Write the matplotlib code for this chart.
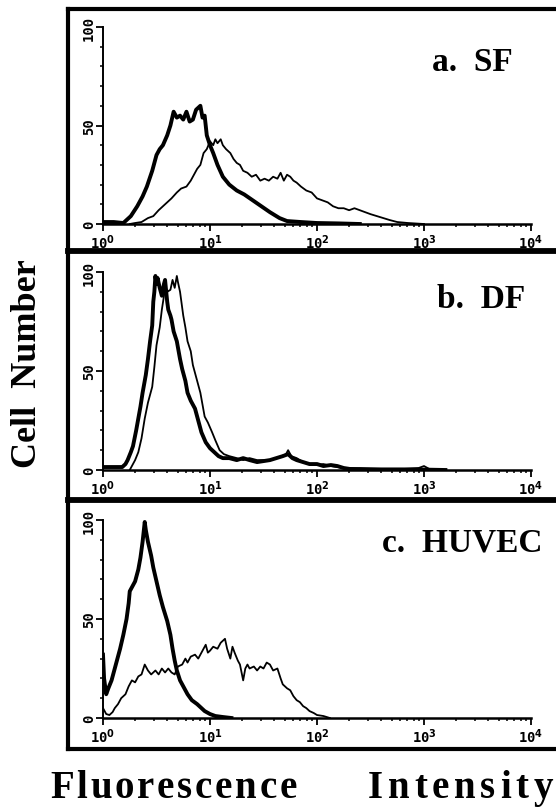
import matplotlib
matplotlib.use("Agg")
import matplotlib.pyplot as plt
from matplotlib.lines import Line2D
from matplotlib.ticker import FixedLocator, NullFormatter, MultipleLocator
import numpy as np

# Histogram traces: x is log10(fluorescence), y is cell count
SF_BOLD_LOGX = [0.00, 0.10, 0.19, 0.26, 0.32, 0.37, 0.41, 0.46, 0.50, 0.53, 0.56, 0.60, 0.63, 0.66,
                0.69, 0.72, 0.75, 0.78, 0.81, 0.84, 0.87, 0.91, 0.93, 0.95, 0.97, 1.00, 1.03, 1.07,
                1.12, 1.18, 1.25, 1.32, 1.40, 1.48, 1.56, 1.65, 1.72, 1.85, 2.00, 2.20, 2.40]
SF_BOLD_COUNT = [1, 1, 0.5, 4, 9, 14, 19, 27, 35, 38, 40, 45, 50, 57, 54, 55, 53, 57, 52, 53, 58,
                 60, 54, 55, 45, 40, 36, 30, 24, 20, 17, 15, 12, 9, 6, 3, 1.5, 1, 0.5, 0.3, 0]

SF_THIN_LOGX = [0.25, 0.30, 0.36, 0.42, 0.47, 0.52, 0.56, 0.60, 0.64, 0.69, 0.73, 0.78, 0.82, 0.85,
                0.88, 0.91, 0.94, 0.97, 1.00, 1.03, 1.05, 1.07, 1.10, 1.12, 1.15, 1.19, 1.22, 1.25,
                1.28, 1.31, 1.35, 1.39, 1.43, 1.47, 1.51, 1.55, 1.59, 1.63, 1.66, 1.69, 1.72, 1.75,
                1.78, 1.81, 1.85, 1.90, 1.95, 2.00, 2.05, 2.10, 2.15, 2.20, 2.25, 2.30, 2.35, 2.40,
                2.45, 2.50, 2.56, 2.62, 2.68, 2.75, 2.85, 3.00]
SF_THIN_COUNT = [0, 0.5, 1, 3, 4, 7, 9, 11, 13, 16, 18, 19, 22, 25, 28, 30, 36, 38, 42, 40, 43, 41,
                 43, 40, 38, 36, 33, 31, 30, 27, 26, 24, 25, 22, 23, 22, 24, 23, 26, 22, 25, 24, 22,
                 21, 19, 17, 16, 13, 12, 11, 9, 8, 8, 7, 8, 7, 6, 5, 4, 3, 2, 1, 0.5, 0]

DF_BOLD_LOGX = [0.00, 0.10, 0.18, 0.21, 0.23, 0.26, 0.28, 0.31, 0.33, 0.35, 0.37, 0.40, 0.42, 0.44,
                0.46, 0.47, 0.48, 0.49, 0.50, 0.51, 0.53, 0.55, 0.57, 0.58, 0.60, 0.61, 0.63, 0.64,
                0.66, 0.69, 0.72, 0.74, 0.77, 0.79, 0.82, 0.86, 0.89, 0.92, 0.96, 1.00, 1.04, 1.08,
                1.12, 1.18, 1.25, 1.31, 1.37, 1.44, 1.50, 1.56, 1.62, 1.68, 1.73, 1.77, 1.81, 1.87,
                1.93, 2.00, 2.06, 2.13, 2.19, 2.25, 2.31, 2.40, 2.60, 2.80, 3.00, 3.20]
DF_BOLD_COUNT = [1.5, 1.5, 1.5, 3, 5, 9, 12, 20, 26, 32, 39, 48, 56, 65, 73, 85, 90, 98, 94, 97,
                 92, 88, 94, 96, 85, 81, 78, 76, 70, 65, 56, 51, 45, 39, 35, 31, 25, 19, 14, 11, 9,
                 7, 6, 6, 5, 6, 5, 4, 4.5, 5, 6, 7, 8, 6, 5, 4, 3, 3, 2, 2.5, 2, 1, 0.5, 0.5, 0.3,
                 0.3, 0.2, 0]

DF_THIN_LOGX = [0.25, 0.27, 0.30, 0.33, 0.36, 0.39, 0.42, 0.46, 0.48, 0.50, 0.53, 0.55, 0.57, 0.58,
                0.60, 0.63, 0.65, 0.67, 0.69, 0.70, 0.72, 0.75, 0.77, 0.79, 0.82, 0.84, 0.87, 0.91,
                0.93, 0.95, 0.98, 1.02, 1.05, 1.09, 1.13, 1.18, 1.25, 1.31, 1.37, 1.44, 1.50, 1.56,
                1.62, 1.67, 1.71, 1.73, 1.76, 1.81, 1.87, 1.93, 2.00, 2.06, 2.13, 2.19, 2.25, 2.31,
                2.40, 2.60, 2.80, 2.95, 3.00, 3.05, 3.20]
DF_THIN_COUNT = [0, 2, 5, 9, 16, 26, 34, 42, 52, 63, 72, 81, 88, 93, 90, 91, 96, 92, 98, 95, 90,
                 78, 72, 65, 60, 53, 47, 39, 33, 27, 24, 19, 15, 10, 8, 7, 6, 5, 6, 5, 5, 5, 6, 7,
                 8, 10, 7, 6, 4, 3, 2.5, 3, 2, 1.5, 1, 1, 0.5, 0.5, 0.5, 1, 2, 0.5, 0]

HUVEC_BOLD_LOGX = [0.00, 0.01, 0.03, 0.05, 0.08, 0.11, 0.14, 0.16, 0.19, 0.22, 0.24, 0.25, 0.28,
                   0.30, 0.33, 0.35, 0.37, 0.38, 0.39, 0.40, 0.42, 0.45, 0.47, 0.50, 0.53, 0.56,
                   0.60, 0.63, 0.65, 0.67, 0.69, 0.72, 0.74, 0.77, 0.79, 0.83, 0.88, 0.92, 0.95,
                   1.00, 1.05, 1.12, 1.20]
HUVEC_BOLD_COUNT = [32, 20, 12, 15, 19, 25, 31, 35, 42, 50, 58, 64, 67, 69, 75, 81, 89, 94, 99, 95,
                    89, 82, 76, 69, 62, 56, 49, 42, 35, 29, 24, 19, 17, 14, 12, 9, 7, 5, 3.5, 2, 1,
                    0.5, 0]

HUVEC_THIN_LOGX = [0.00, 0.03, 0.06, 0.09, 0.11, 0.14, 0.17, 0.21, 0.24, 0.27, 0.30, 0.33, 0.36,
                   0.39, 0.42, 0.45, 0.49, 0.52, 0.55, 0.58, 0.61, 0.64, 0.67, 0.70, 0.74, 0.77,
                   0.79, 0.82, 0.86, 0.89, 0.93, 0.96, 0.98, 1.00, 1.03, 1.07, 1.10, 1.14, 1.16,
                   1.19, 1.21, 1.23, 1.26, 1.28, 1.31, 1.33, 1.35, 1.37, 1.41, 1.44, 1.47, 1.50,
                   1.53, 1.56, 1.59, 1.63, 1.66, 1.68, 1.72, 1.75, 1.78, 1.81, 1.84, 1.87, 1.90,
                   1.93, 1.97, 2.00, 2.06, 2.12]
HUVEC_THIN_COUNT = [5, 2, 1.5, 3, 5, 7, 10, 12, 16, 19, 18, 21, 22, 27, 24, 22, 24, 22, 25, 23, 25,
                    23, 22, 26, 27, 30, 28, 31, 32, 30, 34, 37, 33, 34, 36, 35, 38, 40, 35, 30, 36,
                    33, 29, 27, 19, 25, 27, 25, 26, 24, 26, 25, 28, 27, 24, 25, 20, 17, 15, 14, 11,
                    9, 8, 6, 5, 3.5, 2.5, 1.5, 1, 0]

PANEL_LABELS = ["a.  SF", "b.  DF", "c.  HUVEC"]
X_TICKS = [1, 10, 100, 1000, 10000]
X_TICK_LABELS = ["10$^{0}$", "10$^{1}$", "10$^{2}$", "10$^{3}$", "10$^{4}$"]
Y_TICKS = [0, 50, 100]

W, H = 556, 812
SERIF = "Liberation Serif"
MONO = "DejaVu Sans Mono"

plt.rcParams["mathtext.fontset"] = "dejavusans"
plt.rcParams["mathtext.default"] = "bf"


def fx(px):
    return px / W


def fy(py):
    return 1 - py / H


def tracked_text(fig, x_px, y_px, s, size, track, align="left"):
    # place a word letter by letter so it gets the wide spacing of the print
    renderer = fig.canvas.get_renderer()
    widths = []
    for ch in s:
        t = fig.text(0, 0, ch, family=SERIF, fontweight="bold", fontsize=size)
        widths.append(t.get_window_extent(renderer).width)
        t.remove()
    total = sum(widths) + track * (len(s) - 1)
    x = x_px if align == "left" else x_px - total
    for ch, w in zip(s, widths):
        fig.text(fx(x), fy(y_px), ch, family=SERIF, fontweight="bold", fontsize=size,
                 ha="left", va="baseline")
        x += w + track


fig = plt.figure(figsize=(W / 100, H / 100), dpi=100)
fig.patch.set_facecolor("white")

# thick outer box with separators
frame_left, frame_top, frame_bottom = 68, 10, 750
for x0, y0, x1, y1, lw in [(frame_left, frame_top, 600, frame_top, 3.0),
                           (frame_left, frame_bottom, 600, frame_bottom, 3.0),
                           (frame_left, frame_top, frame_left, frame_bottom, 3.0),
                           (frame_left, 252, 600, 252, 4.2),
                           (frame_left, 501, 600, 501, 4.2)]:
    fig.add_artist(Line2D([fx(x0), fx(x1)], [fy(y0), fy(y1)], color="black", lw=lw,
                          solid_capstyle="projecting"))

panels = [
    (SF_BOLD_LOGX, SF_BOLD_COUNT, SF_THIN_LOGX, SF_THIN_COUNT, 28, 225, (432, 71)),
    (DF_BOLD_LOGX, DF_BOLD_COUNT, DF_THIN_LOGX, DF_THIN_COUNT, 273, 471, (437, 308)),
    (HUVEC_BOLD_LOGX, HUVEC_BOLD_COUNT, HUVEC_THIN_LOGX, HUVEC_THIN_COUNT, 521, 719, (382, 552)),
]

ax_left, ax_right = 103, 531
for i, (bx, by, tx, ty, top, bottom, lab_pos) in enumerate(panels):
    ax = fig.add_axes([fx(ax_left), fy(bottom), (ax_right - ax_left) / W, (bottom - top) / H])
    ax.set_facecolor("none")
    ax.plot(10 ** np.array(tx), ty, color="black", lw=1.3)
    ax.plot(10 ** np.array(bx), by, color="black", lw=2.8)
    ax.set_xscale("log")
    ax.set_xlim(1, 1e4)
    ax.set_ylim(0, 100)
    for s in ["top", "right"]:
        ax.spines[s].set_visible(False)
    ax.spines["left"].set_linewidth(1.4)
    ax.spines["bottom"].set_linewidth(1.8)
    ax.xaxis.set_major_locator(FixedLocator(X_TICKS))
    ax.set_xticklabels(X_TICK_LABELS, family=MONO, fontweight="bold", fontsize=10)
    ax.xaxis.set_minor_locator(FixedLocator([m * d for d in X_TICKS[:-1] for m in range(2, 10)]))
    ax.xaxis.set_minor_formatter(NullFormatter())
    ax.set_yticks(Y_TICKS)
    ax.set_yticklabels([str(v) for v in Y_TICKS], family=MONO, fontweight="bold", fontsize=10,
                       rotation=90, va="center")
    ax.yaxis.set_minor_locator(MultipleLocator(10))
    ax.tick_params(which="major", length=5, width=1.3, pad=1)
    ax.tick_params(which="minor", length=2.5, width=1.1)
    ax.tick_params(axis="y", which="major", pad=0)
    fig.text(fx(lab_pos[0]), fy(lab_pos[1]), PANEL_LABELS[i], family=SERIF, fontweight="bold",
             fontsize=24, ha="left", va="baseline")

fig.text(fx(27), fy(364), "Cell  Number", family=SERIF, fontweight="bold", fontsize=26,
         rotation=90, ha="center", va="center")
tracked_text(fig, 50, 798, "Fluorescence", 28, 2.8)
tracked_text(fig, 553, 798, "Intensity", 28, 4.8, align="right")

fig.savefig("out.png", dpi=100, facecolor="white")
